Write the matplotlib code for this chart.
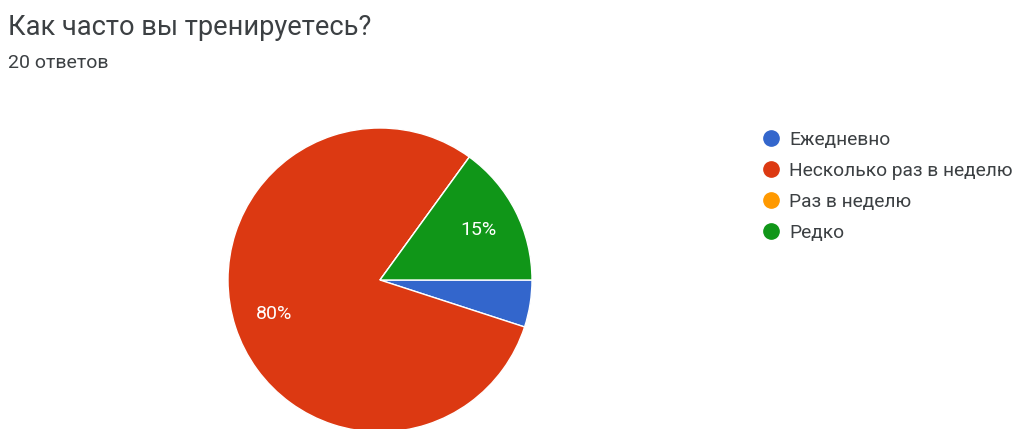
import matplotlib.pyplot as plt
from matplotlib.lines import Line2D

plt.rcParams['font.family'] = ['Roboto', 'DejaVu Sans']

# Daten
categories = ['Ежедневно', 'Несколько раз в неделю', 'Раз в неделю', 'Редко']
counts = [1, 16, 0, 3]
colors = ['#3366cc', '#dc3912', '#ff9900', '#109618']
title = 'Как часто вы тренируетесь?'
subtitle = '20 ответов'

W, H = 1022, 429
fig = plt.figure(figsize=(W / 100, H / 100), dpi=100)

# Kreis: Mittelpunkt (380, 280), Radius 152 px
cx, cy, r = 380, 280, 152
ax = fig.add_axes([(cx - r) / W, (H - cy - r) / H, 2 * r / W, 2 * r / H])


def pct(p):
    return f'{p:.0f}%' if p >= 10 else ''


wedges, texts, autotexts = ax.pie(
    counts, colors=colors, startangle=0, counterclock=False,
    autopct=pct, pctdistance=0.73,
    wedgeprops=dict(edgecolor='white', linewidth=1),
    textprops=dict(color='white', fontsize=14))
ax.set_xlim(-1, 1)
ax.set_ylim(-1, 1)

fig.text(8 / W, 1 - 35 / H, title, fontsize=19.6, color='#3c4043')
fig.text(8 / W, 1 - 68 / H, subtitle, fontsize=14, color='#3c4043')

handles = [Line2D([], [], marker='o', linestyle='', markersize=11,
                  markerfacecolor=c, markeredgecolor=c) for c in colors]
fig.legend(handles, categories, loc='upper left',
           bbox_to_anchor=(752 / W, 1 - 123 / H), frameon=False,
           fontsize=13.8, labelcolor='#3c4043', handletextpad=0.35,
           labelspacing=0.68, handlelength=1.2, borderaxespad=0)

plt.savefig('out.png', dpi=100)
